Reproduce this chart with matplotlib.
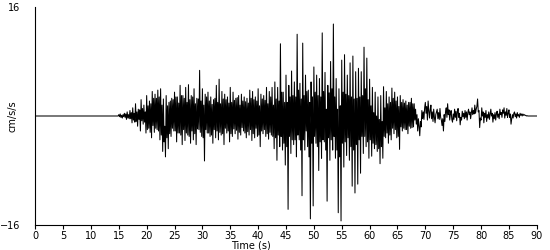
import numpy as np
import matplotlib
matplotlib.use("Agg")
import matplotlib.pyplot as plt

# accelerogram, cm/s/s, sampled every 0.125 s
dt = 0.125
pre_event = [0.0] * 120  # 0 - 15 s, nothing recorded

# 15 s onwards, one row per second
motion = [
    0.2, -0.1, 0.3, -0.2, 0.1, -0.3, 0.2, -0.1,        # 15
    0.4, -0.2, 0.3, -0.5, 0.6, -0.3, 0.2, -0.4,
    0.8, -0.4, 0.5, -1.0, 1.2, -0.6, 0.4, -0.9,
    1.8, -0.8, 0.6, -1.5, 1.0, -0.5, 0.9, -2.2,
    2.4, -0.7, 1.1, -1.2, 1.6, -0.9, 0.6, -2.5,
    3.0, -2.0, 1.5, -1.8, 2.2, -2.4, 1.8, -3.2,        # 20
    3.6, -1.4, 2.6, -2.4, 3.2, -1.8, 2.6, -2.0,
    3.8, -2.2, 2.8, -3.5, 4.0, -2.8, 1.6, -5.2,
    2.5, -3.8, -1.5, -6.0, 3.0, -3.2, 1.5, -4.8,
    2.0, -2.6, 2.2, -3.0, 2.6, -1.8, 2.4, -2.2,
    3.5, -2.2, 2.8, -3.8, 2.8, -2.5, 1.9, -2.5,        # 25
    4.5, -2.8, 3.0, -4.2, 3.0, -2.0, 2.6, -3.6,
    4.2, -2.5, 2.0, -2.8, 4.6, -3.0, 2.4, -4.0,
    3.0, -2.2, 2.8, -3.5, 4.0, -2.6, 1.8, -4.2,
    2.6, -1.9, 2.5, -2.0, 6.7, -2.4, 2.2, -3.0,
    4.0, -3.2, 1.6, -6.6, 3.2, -2.0, 2.8, -2.5,        # 30
    3.5, -2.5, 2.2, -3.0, 2.8, -2.8, 1.7, -4.0,
    2.4, -2.0, 2.6, -3.2, 4.5, -2.2, 2.0, -3.5,
    5.4, -2.4, 1.8, -2.8, 3.6, -2.6, 2.5, -4.2,
    3.2, -1.8, 2.4, -2.5, 2.8, -2.2, 1.9, -3.8,
    4.2, -2.6, 2.0, -3.0, 3.5, -1.9, 2.3, -2.6,        # 35
    2.6, -2.1, 2.7, -3.4, 3.0, -2.4, 1.6, -2.8,
    3.2, -1.7, 2.2, -2.2, 2.8, -2.5, 2.1, -3.2,
    2.6, -2.3, 1.9, -2.8, 3.8, -2.0, 2.6, -3.6,
    3.6, -2.6, 2.4, -3.2, 2.8, -1.8, 2.2, -3.0,
    4.0, -2.8, 1.5, -4.5, 3.2, -2.2, 2.5, -2.6,        # 40
    3.0, -2.0, 2.3, -3.0, 4.2, -2.6, 1.8, -3.4,
    3.6, -2.4, 2.8, -2.8, 4.2, -3.0, 1.6, -4.8,
    5.0, -3.2, 2.5, -6.5, 4.2, -2.8, 2.2, -4.5,
    10.6, -3.0, 3.5, -5.0, 3.5, -4.0, 2.0, -7.2,
    6.0, -4.5, 2.0, -13.7, 4.5, -3.0, 2.8, -5.5,       # 45
    6.6, -3.5, 3.0, -4.2, 5.0, -3.5, 2.8, -6.0,
    12.0, -2.8, 3.8, -3.5, 4.8, -5.0, 2.5, -11.7,
    10.7, -3.5, 3.0, -5.0, 6.0, -2.2, 3.6, -4.5,
    3.8, -6.0, 2.0, -15.1, 5.0, -4.0, 2.8, -13.2,
    7.2, -3.0, 3.5, -4.0, 6.0, -4.5, 3.0, -8.0,        # 50
    5.5, -3.8, 2.8, -6.2, 12.2, -3.5, 3.6, -3.8,
    6.4, -5.0, 1.0, -12.5, 4.5, -3.2, 3.4, -6.5,
    8.0, -3.5, 4.0, -5.0, 13.5, -3.0, 2.8, -6.2,
    5.5, -5.0, 1.0, -14.2, 4.0, -6.0, 1.5, -15.4,
    8.2, -4.0, 3.5, -7.5, 9.0, -3.8, 3.2, -5.8,        # 55
    6.0, -3.2, 3.0, -6.5, 7.8, -4.5, 2.8, -10.3,
    8.8, -5.0, 2.5, -11.3, 6.5, -4.2, 2.6, -10.0,
    7.0, -3.5, 2.8, -8.4, 6.5, -3.0, 3.0, -5.5,
    10.1, -3.0, 4.0, -4.5, 8.5, -3.8, 2.4, -6.2,
    5.4, -3.5, 1.5, -5.9, 4.2, -4.0, 0.5, -4.8,        # 60
    3.5, -4.2, 0.0, -5.2, 2.8, -4.8, -0.5, -7.0,
    3.0, -4.5, -0.8, -6.2, 4.3, -3.0, 1.2, -3.2,
    3.6, -2.5, 1.8, -4.0, 2.8, -2.8, 2.0, -3.5,
    4.1, -1.8, 2.6, -2.6, 3.5, -2.0, 2.2, -3.2,
    2.8, -3.0, 1.4, -4.9, 3.0, -1.6, 2.0, -2.2,        # 65
    2.4, -1.8, 1.9, -2.0, 2.2, -2.0, 1.6, -2.6,
    2.0, -1.5, 2.0, -1.8, 2.6, -1.7, 1.8, -1.6,
    1.8, -0.6, 1.0, -1.2, 0.2, -2.2, -0.4, -1.5,
    -2.9, -0.8, -1.6, 0.8, -0.4, 0.6, -0.5, 1.2,
    2.0, 0.4, 1.4, -0.6, 2.2, 0.8, -0.3, 0.9,          # 70
    1.6, -0.4, 0.6, -0.8, 1.0, -0.2, -1.0, 0.2,
    0.6, 1.0, -0.4, 0.5, -0.5, 1.1, -0.2, -0.6,
    -1.4, -0.4, -2.2, 0.2, -0.8, 0.6, 1.2, -0.2,
    1.8, 0.2, 0.9, -0.6, 0.3, 0.8, -0.5, -0.9,
    0.3, -0.5, 1.0, -0.2, 0.7, -0.7, 0.6, 1.1,         # 75
    -0.2, 0.4, -1.3, -0.2, -0.6, 0.7, -0.1, 0.4,
    -0.4, 0.8, -0.2, 0.6, -0.6, 0.5, 1.0, 0.2,
    0.6, -0.4, 0.4, 1.2, 0.2, 0.8, 0.3, 1.6,
    0.4, 1.0, 1.4, 2.5, 0.6, 0.8, -1.7, -0.3,
    -0.6, 1.2, 0.0, 0.6, -1.0, 0.4, -0.2, 0.8,         # 80
    -0.8, 0.2, -0.3, 0.6, -0.5, 0.3, 1.0, 0.0,
    0.4, -0.9, 0.2, -0.4, 0.5, -0.6, 0.3, 0.7,
    -0.2, 0.3, -0.4, 1.0, 0.2, 0.5, -0.2, 0.9,
    0.4, 1.2, -0.3, 0.6, 0.1, 1.1, -0.2, 0.4,
    0.9, -0.2, 0.3, -1.2, -0.4, 0.2, -0.3, 0.4,        # 85
    0.6, -0.1, 0.3, -0.3, 0.5, 0.0, 0.2, -0.2,
    0.4, 0.1, 0.3, 0.0, 0.3, 0.1, 0.2, 0.1,
    0.1, 0.0, 0.05, 0.0, 0.0, 0.0, 0.0, 0.0,
    0.0, 0.0, 0.0, 0.0, 0.0, 0.0, 0.0, 0.0,
    0.0,                                               # 90
]

accel = np.array(pre_event + motion)
time = np.arange(len(accel)) * dt

x_ticks = list(range(0, 91, 5))
y_lim = 16

fig = plt.figure(figsize=(5.5, 2.5), dpi=100)
ax = fig.add_axes([0.064, 0.1, 0.912, 0.872])
ax.plot(time, accel, color="black", lw=0.75)

ax.set_xlim(0, 90)
ax.set_ylim(-y_lim, y_lim)
ax.set_xticks(x_ticks)
ax.set_yticks([-y_lim, y_lim])
ax.tick_params(axis="x", length=3, width=0.8, labelsize=7, pad=1)
ax.tick_params(axis="y", length=0, labelsize=7, pad=11)
ax.spines["top"].set_visible(False)
ax.spines["right"].set_visible(False)
ax.spines["left"].set_linewidth(0.8)
ax.spines["bottom"].set_linewidth(0.8)

ax.set_xlabel("Time (s)", fontsize=7)
ax.xaxis.set_label_coords(0.43, -0.07)
ax.set_ylabel("cm/s/s", fontsize=7)
ax.yaxis.set_label_coords(-0.036, 0.5)

fig.savefig("out.png", dpi=100)
